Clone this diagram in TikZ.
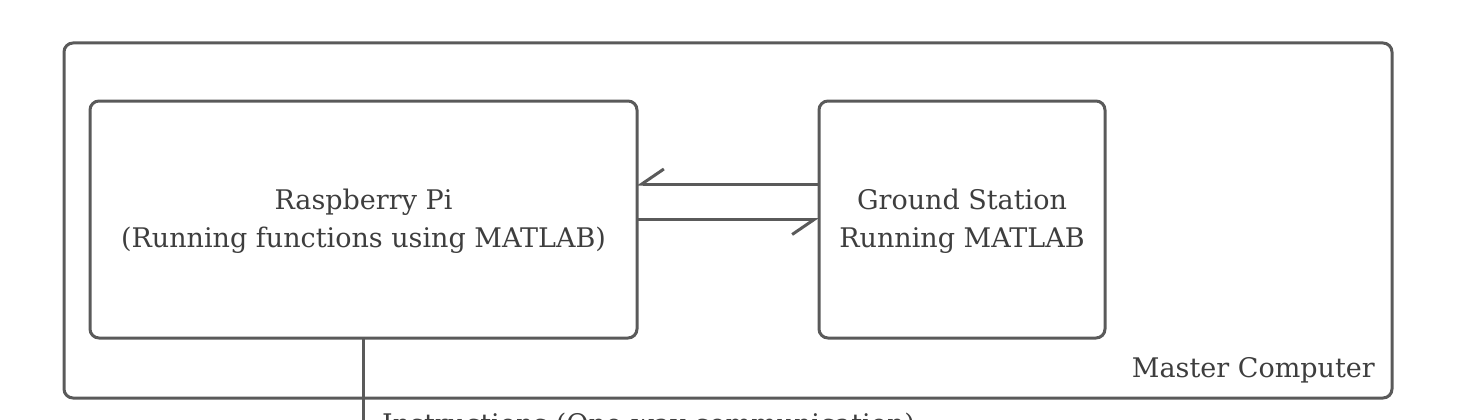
\documentclass[tikz,border=0pt]{standalone}
\usepackage{fontspec}
\setmainfont{DejaVu Serif}
\usetikzlibrary{arrows.meta}
\definecolor{linegray}{HTML}{5A5A5A}
\definecolor{textgray}{HTML}{3E3E3E}
\tikzset{
  box/.style={draw=linegray, line width=3pt, rounded corners=9pt, inner sep=0pt, outer sep=0pt},
  lbl/.style={text=textgray, font=\fontsize{27}{38}\selectfont, align=center, inner sep=0pt},
  harp/.style={draw=linegray, line width=3pt, -{Straight Barb[harpoon, swap, length=22pt, width=30pt, line width=3pt]}},
  conn/.style={draw=linegray, line width=3pt}
}
\begin{document}
\begin{tikzpicture}[x=1pt, y=-1pt]
\useasboundingbox (0,0) rectangle (1470,420);
\clip (0,0) rectangle (1470,420);
\node[box, minimum width=1328pt, minimum height=355pt] (master) at (728,220.5) {};
\node[box, minimum width=547pt, minimum height=237pt] (rpi) at (363.5,219.5) {};
\node[box, minimum width=286pt, minimum height=237pt] (gs) at (962,219.5) {};
\node[lbl] (rpit) at (363.5,221) {Raspberry Pi\\(Running functions using MATLAB)};
\node[lbl] (gst) at (962,221) {Ground Station\\Running MATLAB};
\node[lbl, anchor=base east] (mct) at (1375,377) {Master Computer};
\draw[harp] ([yshift=35.5pt]gs.west) -- ([yshift=35.5pt]rpi.east);
\draw[harp] (rpi.east) -- (gs.west);
\coordinate (down) at (363.5,450);
\draw[conn] (rpi.south) -- (down);
\node[lbl, anchor=base west] (inst) at (382,433) {Instructions (One-way communication)};
\end{tikzpicture}
\end{document}
